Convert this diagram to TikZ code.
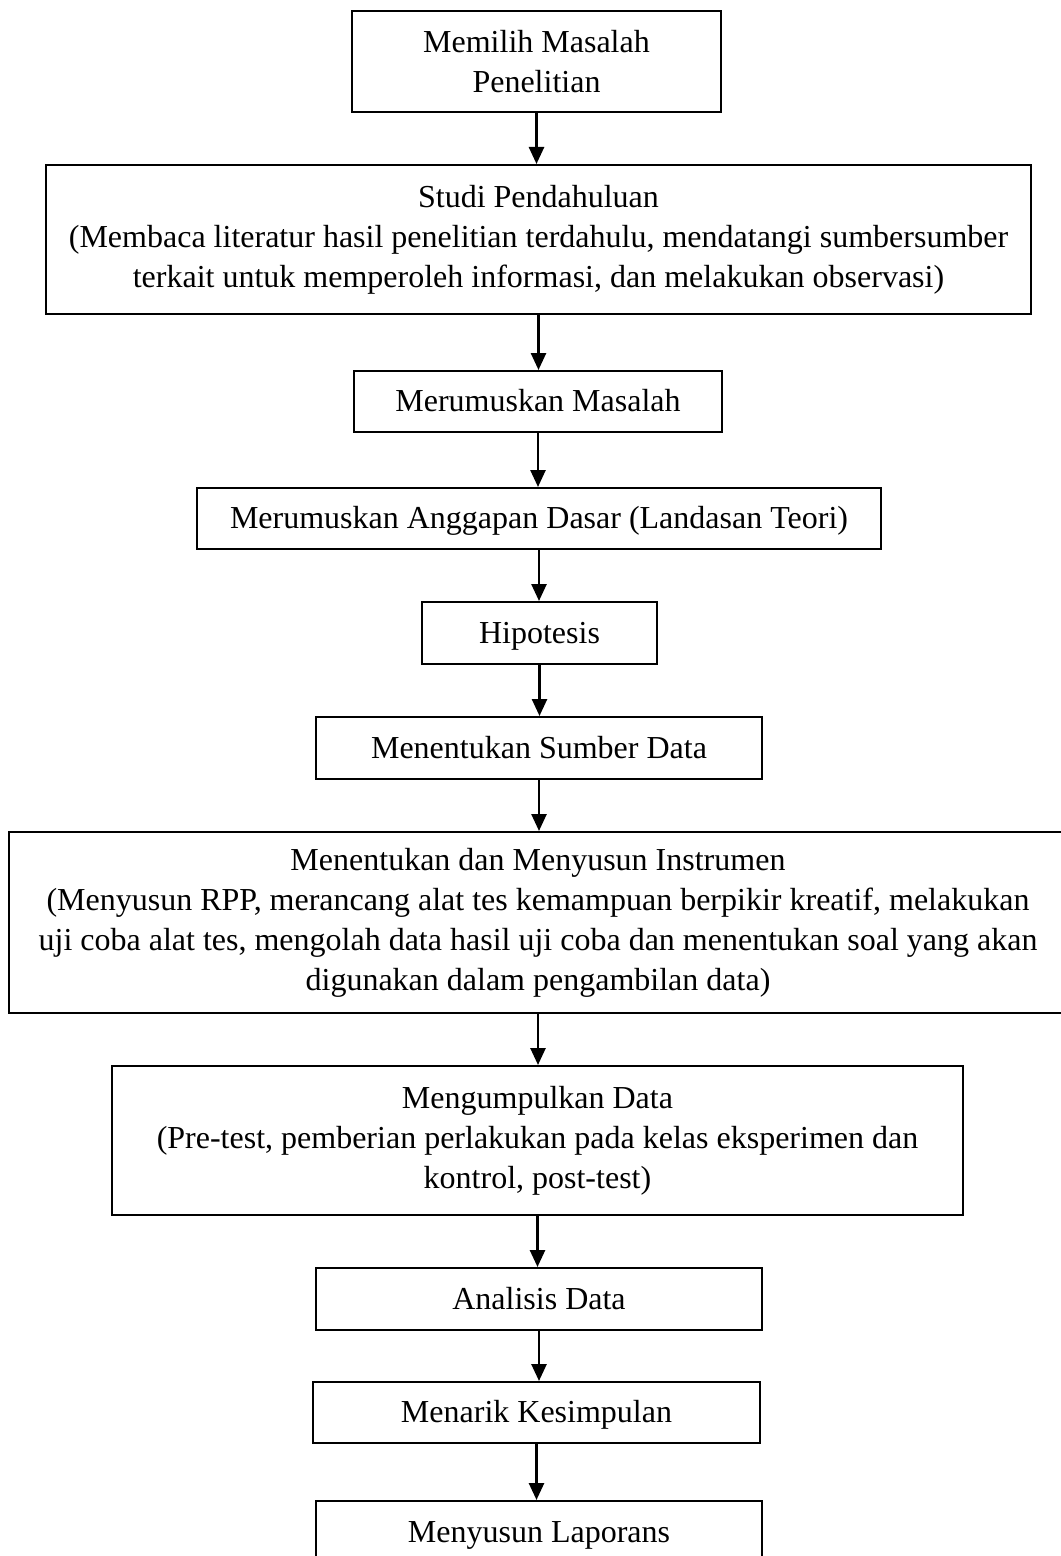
\documentclass[tikz,border=0pt]{standalone}
\usepackage{fontspec}
\setmainfont{Liberation Serif}
\usetikzlibrary{arrows.meta}
\begin{document}
\begin{tikzpicture}[x=0.5pt,y=-0.5pt,
  box/.style={draw, line width=1pt, align=center, inner sep=0pt,
    font=\fontsize{16}{20}\selectfont},
  onebox/.style={box, text height=11pt, text depth=1pt},
  arr/.style={line width=1.3pt, -{Triangle[length=8.5pt,width=7.5pt]}}]
\useasboundingbox (0,0) rectangle (1060,1556);
\node[box, minimum width=184.5pt, minimum height=50.5pt] (b1) at (536.5,61.5)
  {Memilih Masalah\\Penelitian};
\node[box, minimum width=492.5pt, minimum height=74.5pt] (b2) at (538.5,239.5)
  {Studi Pendahuluan\\(Membaca literatur hasil penelitian terdahulu, mendatangi sumbersumber\\terkait untuk memperoleh informasi, dan melakukan observasi)};
\node[onebox, minimum width=184pt, minimum height=30.5pt] (b3) at (538,401.5)
  {Merumuskan Masalah};
\node[onebox, minimum width=342pt, minimum height=30.5pt] (b4) at (539,518.5)
  {Merumuskan Anggapan Dasar (Landasan Teori)};
\node[onebox, minimum width=117.5pt, minimum height=31pt] (b5) at (539.5,633)
  {Hipotesis};
\node[onebox, minimum width=223pt, minimum height=31pt] (b6) at (539,748)
  {Menentukan Sumber Data};
\node[box, minimum width=529pt, minimum height=90.5pt] (b7) at (538,922.5)
  {Menentukan dan Menyusun Instrumen\\(Menyusun RPP, merancang alat tes kemampuan berpikir kreatif, melakukan\\uji coba alat tes, mengolah data hasil uji coba dan menentukan soal yang akan\\digunakan dalam pengambilan data)};
\node[box, minimum width=425.5pt, minimum height=74.5pt] (b8) at (537.5,1140.5)
  {Mengumpulkan Data\\(Pre-test, pemberian perlakukan pada kelas eksperimen dan\\kontrol, post-test)};
\node[onebox, minimum width=223pt, minimum height=31pt] (b9) at (539,1299)
  {Analisis Data};
\node[onebox, minimum width=223.5pt, minimum height=30.5pt] (b10) at (536.5,1412.5)
  {Menarik Kesimpulan};
\node[onebox, minimum width=223pt, minimum height=31pt] (b11) at (539,1532)
  {Menyusun Laporans};
\foreach \a/\b in {b1/b2,b2/b3,b3/b4,b4/b5,b5/b6,b6/b7,b7/b8,b8/b9,b9/b10,b10/b11}
  \draw[arr] (\a.south) -- (\a.south |- \b.north);
\end{tikzpicture}
\end{document}
